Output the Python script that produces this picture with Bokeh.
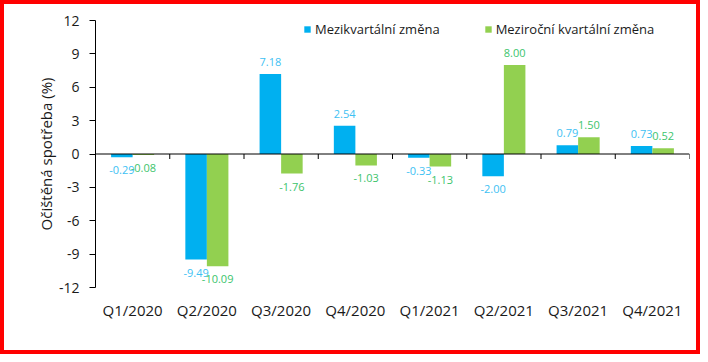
from bokeh.plotting import figure
from bokeh.models import Range1d, FixedTicker, Span, Legend, LegendItem, ColumnDataSource
from bokeh.core.properties import value
from bokeh.embed import file_html
from bokeh.resources import INLINE

categories = ["Q1/2020", "Q2/2020", "Q3/2020", "Q4/2020", "Q1/2021", "Q2/2021", "Q3/2021", "Q4/2021"]
qoq = [-0.29, -9.49, 7.18, 2.54, -0.33, -2.00, 0.79, 0.73]
yoy = [-0.08, -10.09, -1.76, -1.03, -1.13, 8.00, 1.50, 0.52]
y_ticks = [-12, -9, -6, -3, 0, 3, 6, 9, 12]
series_names = ["Mezikvartální změna", "Meziroční kvartální změna"]

BLUE = "#00B0F0"
GREEN = "#92D050"
BLUE_LBL = "#3EC1F3"
GREEN_LBL = "#3CC46C"
FONT = "Open Sans"
BAR_W = 0.29

n = len(categories)
centers = [i + 0.5 for i in range(n)]
x_blue = [c - BAR_W / 2 for c in centers]
x_green = [c + BAR_W / 2 for c in centers]

p = figure(width=700, height=354, output_backend="svg", toolbar_location=None,
           x_range=Range1d(0, n), y_range=Range1d(y_ticks[0], y_ticks[-1]),
           min_border_left=91, min_border_right=15, min_border_top=16, min_border_bottom=71,
           styles={"border": "4px solid #FF0000"})
p.background_fill_color = "white"
p.border_fill_color = "white"
p.outline_line_color = None
p.xgrid.visible = False
p.ygrid.visible = False

src_b = ColumnDataSource(dict(x=x_blue, top=qoq))
src_g = ColumnDataSource(dict(x=x_green, top=yoy))
rb = p.vbar(x="x", top="top", bottom=0, width=BAR_W, source=src_b, fill_color=BLUE, line_color=None)
rg = p.vbar(x="x", top="top", bottom=0, width=BAR_W, source=src_g, fill_color=GREEN, line_color=None)

# zero axis line with category-boundary ticks
p.add_layout(Span(location=0, dimension="width", line_color="black", line_width=1))
p.segment(x0=list(range(1, n + 1)), x1=list(range(1, n + 1)), y0=[0] * n, y1=[-0.45] * n,
          line_color="black", line_width=1)

# value labels
def add_labels(xs, vals, color):
    pos = [(x, v) for x, v in zip(xs, vals) if v >= 0]
    neg = [(x, v) for x, v in zip(xs, vals) if v < 0]
    if pos:
        p.text(x=[a for a, _ in pos], y=[b for _, b in pos], text=[f"{b:.2f}" for _, b in pos],
               text_align="center", text_baseline="bottom", y_offset=-8,
               text_font=value(FONT), text_font_size="11px", text_color=color)
    if neg:
        p.text(x=[a for a, _ in neg], y=[b for _, b in neg], text=[f"{b:.2f}" for _, b in neg],
               text_align="center", text_baseline="top", y_offset=9,
               text_font=value(FONT), text_font_size="11px", text_color=color)

add_labels(x_blue, qoq, BLUE_LBL)
add_labels(x_green, yoy, GREEN_LBL)

# y axis
ya = p.yaxis[0]
ya.ticker = FixedTicker(ticks=y_ticks)
ya.major_label_overrides = {t: str(t) for t in y_ticks}
ya.minor_tick_line_color = None
ya.major_tick_in = 0
ya.major_tick_out = 6
ya.axis_line_color = "black"
ya.major_tick_line_color = "black"
ya.major_label_text_font = FONT
ya.major_label_text_font_size = "14px"
ya.major_label_text_color = "#1a1a1a"
ya.major_label_standoff = 10
ya.axis_label = "Očištěná spotřeba (%)"
ya.axis_label_text_font = FONT
ya.axis_label_text_font_size = "15px"
ya.axis_label_text_font_style = "normal"
ya.axis_label_text_color = "#1a1a1a"
ya.axis_label_standoff = 0

# x axis (category labels only)
xa = p.xaxis[0]
xa.ticker = FixedTicker(ticks=centers)
xa.major_label_overrides = {c: lab for c, lab in zip(centers, categories)}
xa.axis_line_color = None
xa.major_tick_line_color = None
xa.minor_tick_line_color = None
xa.major_label_text_font = FONT
xa.major_label_text_font_size = "15px"
xa.major_label_text_color = "#1a1a1a"
xa.major_label_standoff = 6

legend = Legend(items=[LegendItem(label=series_names[0], renderers=[rb]),
                       LegendItem(label=series_names[1], renderers=[rg])],
                location=(208, 249), orientation="horizontal",
                glyph_width=8, glyph_height=8, label_standoff=4, spacing=44,
                padding=0, margin=0, border_line_color=None, background_fill_alpha=0,
                label_text_font=FONT, label_text_font_size="13px", label_text_color="#1a1a1a")
p.add_layout(legend)

open("out.html", "w").write(file_html(p, INLINE))
